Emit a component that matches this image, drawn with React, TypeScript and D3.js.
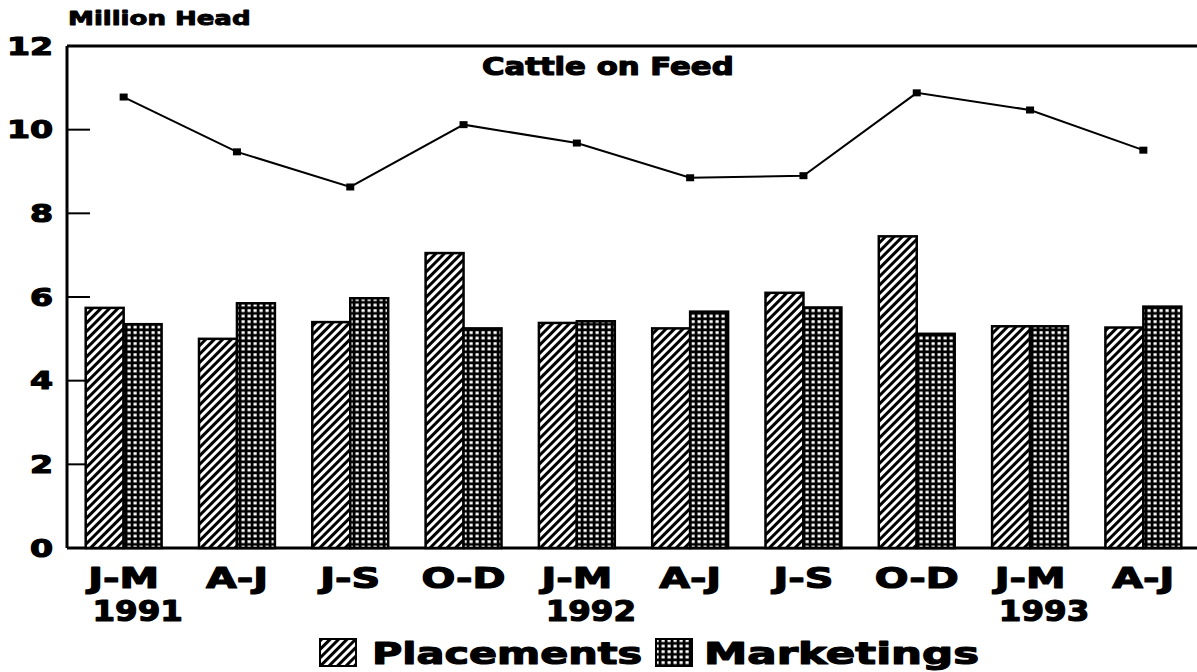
import React from 'react'
import * as d3 from 'd3'

// Quarterly cattle data, million head
const quarters = ['J-M', 'A-J', 'J-S', 'O-D', 'J-M', 'A-J', 'J-S', 'O-D', 'J-M', 'A-J']
const years = ['1991', '', '', '', '1992', '', '', '', '1993', '']
const placements = [5.74, 5.0, 5.4, 7.05, 5.38, 5.25, 6.1, 7.45, 5.3, 5.27]
const marketings = [5.35, 5.85, 5.97, 5.25, 5.42, 5.65, 5.75, 5.12, 5.3, 5.77]
const onFeed = [10.78, 9.47, 8.63, 10.12, 9.68, 8.85, 8.9, 10.88, 10.47, 9.51]
const yTicks = [0, 2, 4, 6, 8, 10, 12]

const W = 1197
const H = 672
const left = 67
const top = 46
const bottom = 548
const right = 1200

const FONT = '"DejaVu Sans", Arial, sans-serif'

export default function App() {
  const idx = quarters.map((_, i) => String(i))
  const x = d3.scaleBand<string>().domain(idx).range([left, right]).paddingInner(0.33).paddingOuter(0.165)
  const y = d3.scaleLinear().domain([0, 12]).range([bottom, top])
  const bw = x.bandwidth() / 2
  const center = (i: number) => (x(String(i)) || 0) + bw

  const line = d3.line<number>()
    .x((_, i) => center(i))
    .y(d => y(d))

  // heavy black type, close to the original's extended black face
  const textStyle = { fontFamily: FONT, fontWeight: 'bold' as const, fill: '#000', stroke: '#000', strokeWidth: 1.2, strokeLinejoin: 'round' as const }

  return (
    <div style={{ position: 'absolute', left: 0, top: 0 }}>
      <svg width={W} height={H} style={{ display: 'block', background: '#fff' }}>
        <defs>
          <pattern id="hatch" width="6" height="6" patternUnits="userSpaceOnUse" patternTransform="rotate(45)">
            <rect width="6" height="6" fill="#fff" />
            <rect x="0" y="0" width="3" height="6" fill="#000" />
          </pattern>
          <pattern id="grid" width="6" height="5.5" patternUnits="userSpaceOnUse">
            <rect width="6" height="5.5" fill="#000" />
            <rect x="1.5" y="1.2" width="3.2" height="2.8" fill="#fff" />
          </pattern>
        </defs>

        {/* frame */}
        <line x1={left} x2={W} y1={top} y2={top} stroke="#000" strokeWidth={3} />
        <line x1={left} x2={left} y1={top} y2={bottom} stroke="#000" strokeWidth={3} />
        <line x1={left} x2={W} y1={bottom} y2={bottom} stroke="#000" strokeWidth={3} />
        {yTicks.filter(t => t > 0 && t < 12).map(t => (
          <line key={t} x1={left} x2={left + 23} y1={y(t)} y2={y(t)} stroke="#000" strokeWidth={2} />
        ))}
        {yTicks.map(t => (
          <text key={t} transform={`translate(53,${y(t) + 8.5}) scale(1.38,1)`} textAnchor="end" fontSize={24} style={textStyle}>{t}</text>
        ))}

        <text transform="translate(68,25) scale(1.37,1)" fontSize={19} style={{ ...textStyle, strokeWidth: 0.9 }}>Million Head</text>
        <text transform="translate(482,75) scale(1.28,1)" fontSize={24} style={textStyle}>Cattle on Feed</text>

        {/* bars */}
        {placements.map((v, i) => (
          <rect key={'p' + i} x={x(String(i))} y={y(v)} width={bw} height={bottom - y(v)}
            fill="url(#hatch)" stroke="#000" strokeWidth={2.5} />
        ))}
        {marketings.map((v, i) => (
          <rect key={'m' + i} x={center(i)} y={y(v)} width={bw} height={bottom - y(v)}
            fill="url(#grid)" stroke="#000" strokeWidth={2.5} />
        ))}

        {/* cattle on feed line */}
        <path d={line(onFeed) || ''} fill="none" stroke="#000" strokeWidth={2} />
        {onFeed.map((v, i) => (
          <rect key={'o' + i} x={center(i) - 4} y={y(v) - 3.5} width={8} height={7} fill="#000" />
        ))}

        {/* x labels */}
        {quarters.map((q, i) => (
          <text key={'q' + i} transform={`translate(${center(i)},588) scale(1.37,1)`} textAnchor="middle" fontSize={29} style={textStyle}>{q}</text>
        ))}
        {years.map((yr, i) => yr && (
          <text key={'y' + i} transform={`translate(${center(i) + 14},621) scale(1.16,1)`} textAnchor="middle" fontSize={28} style={textStyle}>{yr}</text>
        ))}

        {/* legend */}
        <rect x={320} y={639} width={36} height={27} fill="url(#hatch)" stroke="#000" strokeWidth={2} />
        <text transform="translate(372,664) scale(1.38,1)" fontSize={30} style={textStyle}>Placements</text>
        <rect x={656} y={639} width={36} height={27} fill="url(#grid)" stroke="#000" strokeWidth={2} />
        <text transform="translate(704,664) scale(1.45,1)" fontSize={30} style={textStyle}>Marketings</text>
      </svg>
    </div>
  )
}
